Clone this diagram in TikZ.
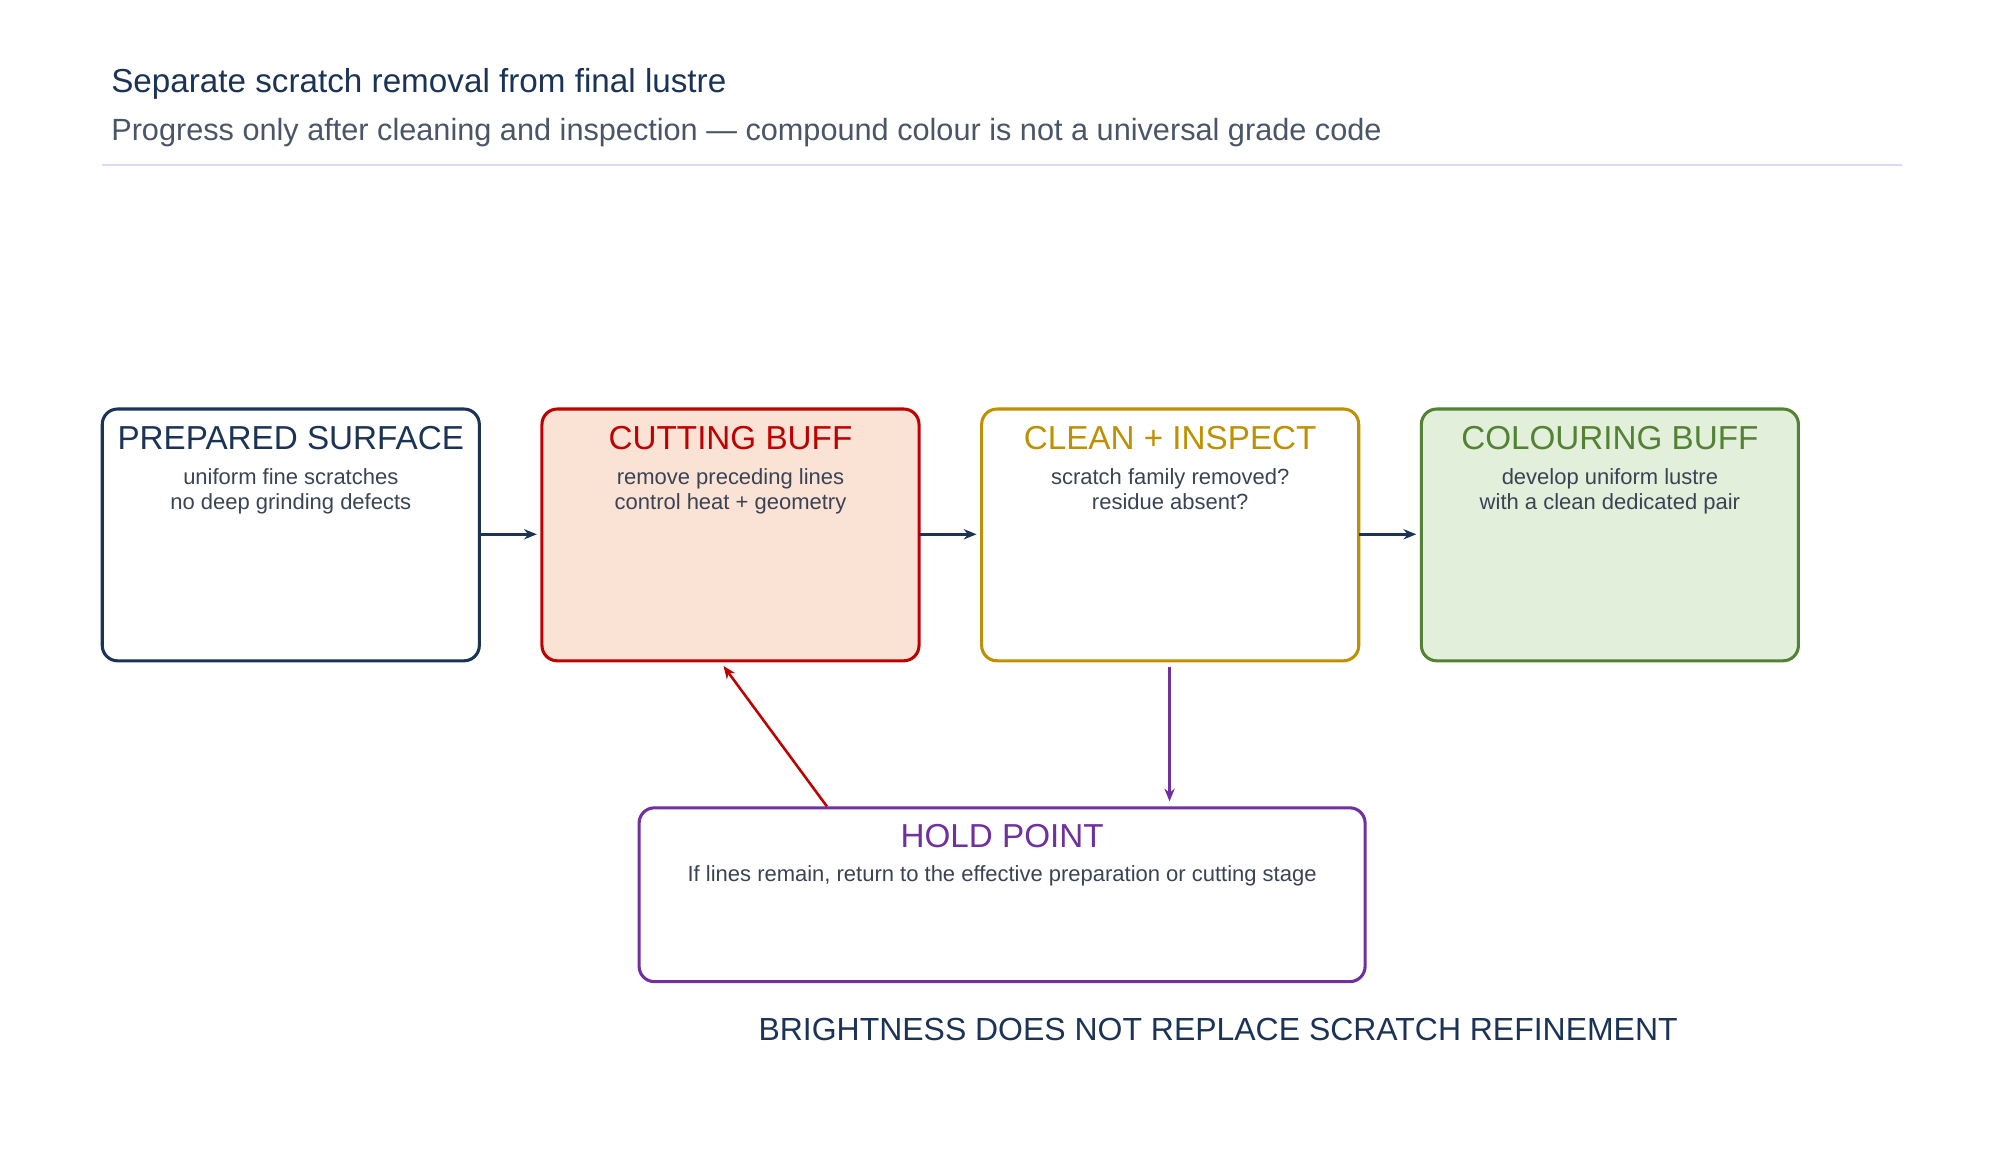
\documentclass[tikz,border=0pt]{standalone}
\usepackage{fontspec}
\setmainfont{Liberation Sans}
\usetikzlibrary{arrows.meta}
\definecolor{navy}{HTML}{1B3357}
\definecolor{sub}{HTML}{4A5568}
\definecolor{cred}{HTML}{C00000}
\definecolor{cfill}{HTML}{FAE2D5}
\definecolor{gold}{HTML}{BF9000}
\definecolor{grn}{HTML}{548235}
\definecolor{gfill}{HTML}{E2EFDA}
\definecolor{purp}{HTML}{7030A0}
\definecolor{body}{HTML}{3A4355}
\begin{document}
\begin{tikzpicture}[x=0.5pt,y=-0.5pt,
 box/.style={draw,line width=1.2pt,rounded corners=6pt},
 hd/.style={font=\fontsize{13}{15}\selectfont,anchor=base},
 bd/.style={font=\fontsize{8.6}{10}\selectfont,text=body,anchor=base},
 arr/.style={-{Stealth[length=5pt,width=4pt]},line width=1pt}]
\useasboundingbox (0,0) rectangle (1560,908);
\node[anchor=base west,text=navy,font=\fontsize{13}{15}\selectfont] (t) at (80,72) {Separate scratch removal from final lustre};
\node[anchor=base west,text=sub,font=\fontsize{12}{14}\selectfont] (s) at (80,110) {Progress only after cleaning and inspection — compound colour is not a universal grade code};
\draw[color=blue!15,line width=1pt] (80,129) -- (1488,129);
% boxes
\draw[box,navy] (80,320) rectangle (375,517);
\draw[box,cred,fill=cfill] (424,320) rectangle (719,517);
\draw[box,gold] (768,320) rectangle (1063,517);
\draw[box,grn,fill=gfill] (1112,320) rectangle (1407,517);
\draw[box,purp] (500,632) rectangle (1068,768);
\coordinate (b1) at (375,418); \coordinate (b2w) at (420,418);
\coordinate (b2) at (719,418); \coordinate (b3w) at (764,418);
\coordinate (b3) at (1063,418); \coordinate (b4w) at (1108,418);
\coordinate (b3s) at (915,522); \coordinate (hn) at (915,627);
\coordinate (hr) at (647,631); \coordinate (b2s) at (566,521);
\node[hd,text=navy] (h1) at (227.5,352) {PREPARED SURFACE};
\node[bd] (l1a) at (227.5,379) {uniform fine scratches};
\node[bd] (l1b) at (227.5,399) {no deep grinding defects};
\node[hd,text=cred] (h2) at (571.5,352) {CUTTING BUFF};
\node[bd] (l2a) at (571.5,379) {remove preceding lines};
\node[bd] (l2b) at (571.5,399) {control heat + geometry};
\node[hd,text=gold] (h3) at (915.5,352) {CLEAN + INSPECT};
\node[bd] (l3a) at (915.5,379) {scratch family removed?};
\node[bd] (l3b) at (915.5,399) {residue absent?};
\node[hd,text=grn] (h4) at (1259.5,352) {COLOURING BUFF};
\node[bd] (l4a) at (1259.5,379) {develop uniform lustre};
\node[bd] (l4b) at (1259.5,399) {with a clean dedicated pair};
\node[hd,text=purp] (h5) at (784,663) {HOLD POINT};
\node[bd] (l5) at (784,690) {If lines remain, return to the effective preparation or cutting stage};
\node[anchor=base,text=navy,font=\fontsize{12.5}{14}\selectfont] (ft) at (953,814) {BRIGHTNESS DOES NOT REPLACE SCRATCH REFINEMENT};
\draw[arr,navy] (b1) -- (b2w);
\draw[arr,navy] (b2) -- (b3w);
\draw[arr,navy] (b3) -- (b4w);
\draw[arr,purp] (b3s) -- (hn);
\draw[arr,cred] (hr) -- (b2s);
\end{tikzpicture}
\end{document}
